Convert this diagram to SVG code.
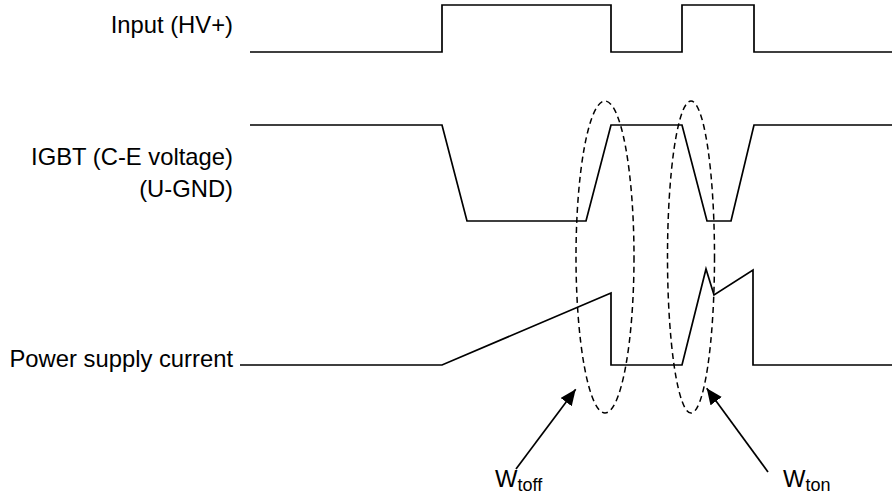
<svg xmlns="http://www.w3.org/2000/svg" width="892" height="499" viewBox="0 0 892 499">
<style>
.lbl{font-family:"Liberation Sans",Arial,sans-serif;font-size:23.8px;fill:#000}
.sub{font-size:18px}
.wave{fill:none;stroke:#000;stroke-width:1.7;stroke-linejoin:miter}
.ell{fill:none;stroke:#000;stroke-width:1.5;stroke-dasharray:6 4}
.arr{fill:none;stroke:#000;stroke-width:1.7}
</style>
<defs>
<marker id="ah" markerUnits="userSpaceOnUse" markerWidth="18" markerHeight="16" refX="16" refY="7" orient="auto">
<path d="M0,0 L16,7 L0,14 Z" fill="#000"/>
</marker>
</defs>
<rect width="892" height="499" fill="#fff"/>
<g id="input">
<text class="lbl" x="233" y="33" text-anchor="end">Input (HV+)</text>
<path class="wave" d="M250,52 H442 V5 H611 V52 H682 V5 H754 V52 H892"/>
</g>
<g id="igbt">
<text class="lbl" x="233" y="165" text-anchor="end">IGBT (C-E voltage)</text>
<text class="lbl" x="233" y="197" text-anchor="end">(U-GND)</text>
<path class="wave" d="M250,125 H442 L467,221 H586 L611,125 H682 L707,221 H731 L754,125 H892"/>
</g>
<g id="current">
<text class="lbl" x="233" y="367" text-anchor="end">Power supply current</text>
<path class="wave" d="M240,365 H442 L611,293 V365 H682 L706,269 L714,295 L753,270 V365 H892"/>
</g>
<g id="ellipses">
<ellipse class="ell" cx="605" cy="257" rx="29" ry="156"/>
<ellipse class="ell" cx="691" cy="257" rx="23.5" ry="156"/>
</g>
<g id="connectors">
<line class="arr" x1="516" y1="469" x2="575.7" y2="389.3" marker-end="url(#ah)"/>
<line class="arr" x1="768" y1="472" x2="706.7" y2="388.3" marker-end="url(#ah)"/>
</g>
<g id="wtoff">
<text class="lbl" x="495" y="487">W<tspan class="sub" dy="4">toff</tspan></text>
</g>
<g id="wton">
<text class="lbl" x="783" y="487">W<tspan class="sub" dy="4">ton</tspan></text>
</g>
</svg>
